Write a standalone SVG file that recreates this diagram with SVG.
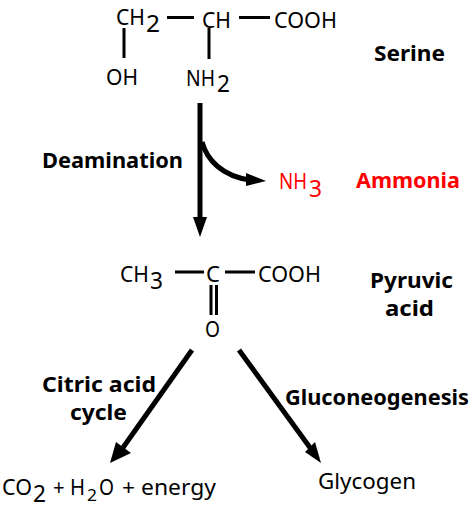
<svg xmlns="http://www.w3.org/2000/svg" width="473" height="510" viewBox="0 0 473 510">
<style>
text{font-family:"Noto Sans","Open Sans",sans-serif;font-size:22px;fill:#000}
.b{font-weight:bold;font-size:22px}
.r{fill:#f00}
.s{font-size:24px}
.u{font-size:17px}
.l{stroke:#000;stroke-width:3;fill:none}
.a{stroke:#000;stroke-width:5;fill:none}
.h{fill:#000}
</style>
<rect width="473" height="510" fill="#fff"/>
<g id="connectors">
<path class="l" d="M167 17.500H194M239 17.500H270M124 28V58M209 28V59M175 272H204M225 272H255M211 285V315M216.500 285V315"/>
<path class="a" d="M200 103V220"/>
<path class="h" d="M193 217H207L200 237Z"/>
<path class="a" d="M202 142C207 160 222 176 250 180"/>
<path class="h" d="M246 173L266 181L246 186Z"/>
<path class="a" d="M192 350L122 449"/>
<path class="h" d="M116 442L110 463L131 453Z"/>
<path class="a" d="M239 350L311 449"/>
<path class="h" d="M305 452L321 463L315 442Z"/>
</g>
<g id="serine">
<text x="116" y="25" textLength="29" lengthAdjust="spacingAndGlyphs">CH</text><text x="146" y="32" class="s" textLength="14" lengthAdjust="spacingAndGlyphs">2</text>
<text x="202" y="28" textLength="29" lengthAdjust="spacingAndGlyphs">CH</text>
<text x="274" y="28" textLength="63" lengthAdjust="spacingAndGlyphs">COOH</text>
<text x="106" y="85" textLength="32" lengthAdjust="spacingAndGlyphs">OH</text>
<text x="186" y="86" textLength="29" lengthAdjust="spacingAndGlyphs">NH</text><text x="217" y="92" class="s" textLength="13" lengthAdjust="spacingAndGlyphs">2</text>
<text x="374" y="61" class="b" textLength="71" lengthAdjust="spacingAndGlyphs">Serine</text>
</g>
<g id="deamination"><text x="42" y="168" class="b" textLength="141" lengthAdjust="spacingAndGlyphs">Deamination</text></g>
<g id="ammonia">
<text x="279" y="189" class="r" textLength="28" lengthAdjust="spacingAndGlyphs">NH</text><text x="309" y="197" class="r s" textLength="13" lengthAdjust="spacingAndGlyphs">3</text>
<text x="356" y="188" class="b r" textLength="104" lengthAdjust="spacingAndGlyphs">Ammonia</text>
</g>
<g id="pyruvic">
<text x="120" y="282" textLength="29" lengthAdjust="spacingAndGlyphs">CH</text><text x="150" y="289" class="s" textLength="13" lengthAdjust="spacingAndGlyphs">3</text>
<text x="206" y="282" textLength="14" lengthAdjust="spacingAndGlyphs">C</text>
<text x="258" y="282" textLength="63" lengthAdjust="spacingAndGlyphs">COOH</text>
<text x="205" y="337" textLength="15" lengthAdjust="spacingAndGlyphs">O</text>
<text x="370" y="288" class="b" textLength="83" lengthAdjust="spacingAndGlyphs">Pyruvic</text>
<text x="385" y="316" class="b" textLength="49" lengthAdjust="spacingAndGlyphs">acid</text>
</g>
<g id="citric">
<text x="42" y="392" class="b" textLength="114" lengthAdjust="spacingAndGlyphs">Citric acid</text>
<text x="70" y="420" class="b" textLength="57" lengthAdjust="spacingAndGlyphs">cycle</text>
</g>
<g id="gluconeogenesis"><text x="285" y="405" class="b" textLength="184" lengthAdjust="spacingAndGlyphs">Gluconeogenesis</text></g>
<g id="products">
<text x="2" y="495" textLength="30" lengthAdjust="spacingAndGlyphs">CO</text><text x="33" y="502" class="s" textLength="13" lengthAdjust="spacingAndGlyphs">2</text>
<text x="53" y="495" textLength="32" lengthAdjust="spacingAndGlyphs">+ H</text><text x="87" y="501" class="u" textLength="10" lengthAdjust="spacingAndGlyphs">2</text><text x="99" y="495" textLength="15" lengthAdjust="spacingAndGlyphs">O</text>
<text x="122" y="495" textLength="94" lengthAdjust="spacingAndGlyphs">+ energy</text>
</g>
<g id="glycogen"><text x="318" y="489" textLength="98" lengthAdjust="spacingAndGlyphs">Glycogen</text></g>
</svg>
